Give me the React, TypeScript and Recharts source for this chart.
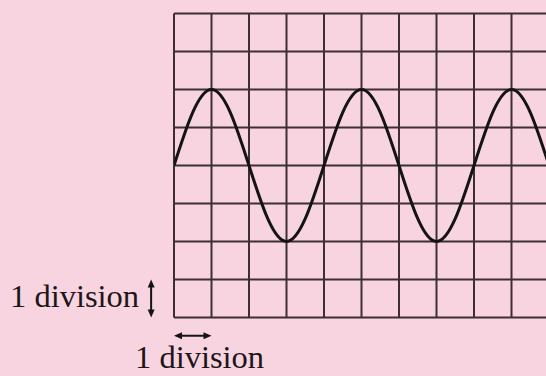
import React from 'react';
import { LineChart, Line, XAxis, YAxis, CartesianGrid, ReferenceLine } from 'recharts';

// Screen graticule: 10 horizontal divisions (time) and 8 vertical divisions (voltage)
const timeTicks = [0, 1, 2, 3, 4, 5, 6, 7, 8, 9, 10];
const voltTicks = [-4, -3, -2, -1, 0, 1, 2, 3, 4];

// Trace samples, every half division across the screen
const traceTime = [0, 0.5, 1, 1.5, 2, 2.5, 3, 3.5, 4, 4.5, 5, 5.5, 6, 6.5, 7, 7.5, 8, 8.5, 9, 9.5, 10];
const traceVolt = [0, 1.4, 2, 1.4, 0, -1.4, -2, -1.4, 0, 1.4, 2, 1.4, 0, -1.4, -2, -1.4, 0, 1.4, 2, 1.4, 0];

const scaleLabel = '1 division';

const trace = traceTime.map((t, i) => ({ t, v: traceVolt[i] }));

const BG = '#f7d4df';
const GRID = '#3d2f34';
const INK = '#141414';

// Double-headed arrow drawn between the reference segment's end points
const DoubleArrow = (props: any) => {
  const { x1, y1, x2, y2 } = props;
  const dx = x2 - x1;
  const dy = y2 - y1;
  const len = Math.hypot(dx, dy) || 1;
  const ux = dx / len;
  const uy = dy / len;
  const px = -uy;
  const py = ux;
  const head = 8;
  const half = 3.5;
  const tri = (tx: number, ty: number, dir: number) => {
    const bx = tx - dir * ux * head;
    const by = ty - dir * uy * head;
    return `${tx},${ty} ${bx + px * half},${by + py * half} ${bx - px * half},${by - py * half}`;
  };
  return (
    <g>
      <line
        x1={x1 + ux * 4}
        y1={y1 + uy * 4}
        x2={x2 - ux * 4}
        y2={y2 - uy * 4}
        stroke={INK}
        strokeWidth={2}
      />
      <polygon points={tri(x1, y1, -1)} fill={INK} />
      <polygon points={tri(x2, y2, 1)} fill={INK} />
    </g>
  );
};

const labelStyle: React.CSSProperties = {
  position: 'absolute',
  fontFamily: '"Liberation Serif", "DejaVu Serif", serif',
  fontSize: 32.5,
  color: '#1c1618',
  lineHeight: 0.9,
  whiteSpace: 'nowrap',
};

export default function App() {
  return (
    <div
      style={{
        position: 'absolute',
        left: 0,
        top: 0,
        width: 546,
        height: 376,
        overflow: 'hidden',
        background: BG,
      }}
    >
      <LineChart
        width={560}
        height={376}
        data={trace}
        margin={{ top: 13.5, right: 11, bottom: 58.5, left: 174 }}
      >
        <XAxis
          dataKey="t"
          type="number"
          domain={[0, 10]}
          ticks={timeTicks}
          allowDataOverflow
          hide
        />
        <YAxis
          type="number"
          domain={[-4, 4]}
          ticks={voltTicks}
          allowDataOverflow
          hide
        />
        <CartesianGrid stroke={GRID} strokeWidth={2} strokeOpacity={1} />
        <Line
          dataKey="v"
          type="natural"
          stroke={INK}
          strokeWidth={3}
          dot={false}
          activeDot={false}
          isAnimationActive={false}
        />
        <ReferenceLine
          segment={[{ x: 0, y: -4.48 }, { x: 1, y: -4.48 }]}
          ifOverflow="visible"
          shape={DoubleArrow}
        />
        <ReferenceLine
          segment={[{ x: -0.61, y: -3 }, { x: -0.61, y: -4 }]}
          ifOverflow="visible"
          shape={DoubleArrow}
        />
      </LineChart>
      <div style={{ ...labelStyle, left: 10, top: 282 }}>{scaleLabel}</div>
      <div style={{ ...labelStyle, left: 135, top: 343 }}>{scaleLabel}</div>
    </div>
  );
}
